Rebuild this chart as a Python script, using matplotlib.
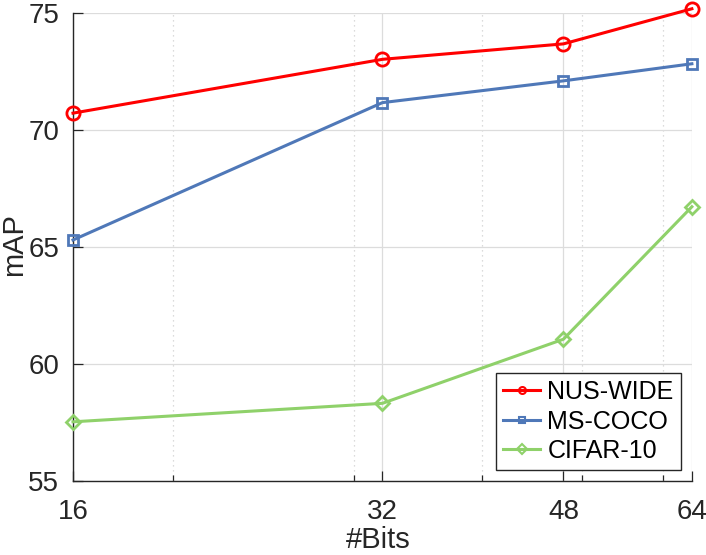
import matplotlib
matplotlib.use("Agg")
import matplotlib.pyplot as plt
from matplotlib.ticker import FixedLocator, NullFormatter, FixedFormatter

plt.rcParams['font.family'] = ['Liberation Sans', 'DejaVu Sans']

bits = [16, 32, 48, 64]
nus_wide = [70.72, 73.02, 73.68, 75.18]
ms_coco = [65.30, 71.17, 72.10, 72.83]
cifar10 = [57.53, 58.32, 61.06, 66.72]
xtick_labels = ["16", "32", "48", "64"]
minor_x = [20, 30, 40, 50, 60]
yticks = [55, 60, 65, 70, 75]

fig = plt.figure(figsize=(7.06, 5.55), dpi=100)
ax = fig.add_axes([0.1034, 0.1333, 0.8766, 0.8433])

c_red = '#FF0000'
c_blue = '#4F78B8'
c_green = '#8FD16A'

ax.plot(bits, nus_wide, '-o', color=c_red, lw=2.2, ms=9.5, mfc='none', mew=2.0, label='NUS-WIDE', clip_on=False, zorder=5)
ax.plot(bits, ms_coco, '-s', color=c_blue, lw=2.2, ms=7.5, mfc='none', mew=2.0, label='MS-COCO', clip_on=False, zorder=5)
ax.plot(bits, cifar10, '-D', color=c_green, lw=2.2, ms=7.5, mfc='none', mew=2.0, label='CIFAR-10', clip_on=False, zorder=5)

ax.set_xscale('log', base=2)
ax.set_xlim(16, 64)
ax.set_ylim(55, 75)
ax.xaxis.set_major_locator(FixedLocator(bits))
ax.xaxis.set_major_formatter(FixedFormatter(xtick_labels))
ax.xaxis.set_minor_locator(FixedLocator(minor_x))
ax.xaxis.set_minor_formatter(NullFormatter())
ax.set_yticks(yticks)

ax.grid(True, which='major', color='#DCDCDC', lw=0.9, ls='-')
ax.grid(True, which='minor', axis='x', color='#D0D0D0', lw=0.9, ls=(0, (1, 3)))
ax.set_axisbelow(True)

for s in ['top', 'right']:
    ax.spines[s].set_visible(False)
for s in ['left', 'bottom']:
    ax.spines[s].set_color('#262626')
    ax.spines[s].set_linewidth(1.0)

ax.tick_params(which='both', direction='in', colors='#262626', labelsize=20, width=0.9)
ax.tick_params(which='major', length=7)
ax.tick_params(which='minor', length=4)
ax.tick_params(axis='x', which='major', pad=13)
ax.tick_params(axis='y', which='major', pad=10)

ax.set_xlabel('#Bits', fontsize=21, color='#262626')
ax.set_ylabel('mAP', fontsize=21, color='#262626')
ax.xaxis.set_label_coords(0.5 + (378 - 382.5) / 619, -0.096)
ax.yaxis.set_label_coords(-0.072, 0.5 + (481 - 245 - 234) / 468)

leg = ax.legend(loc='lower right', fontsize=18, frameon=True, fancybox=False,
                edgecolor='#262626', framealpha=1, borderpad=0.28, labelspacing=0.22,
                handlelength=1.5, handletextpad=0.28, borderaxespad=0.0,
                bbox_to_anchor=(0.982, 0.0235))
leg.get_frame().set_linewidth(1.0)
for h in leg.legend_handles:
    h.set_markersize(5)
    h.set_markeredgewidth(1.5)

fig.savefig('out.png', dpi=100)
